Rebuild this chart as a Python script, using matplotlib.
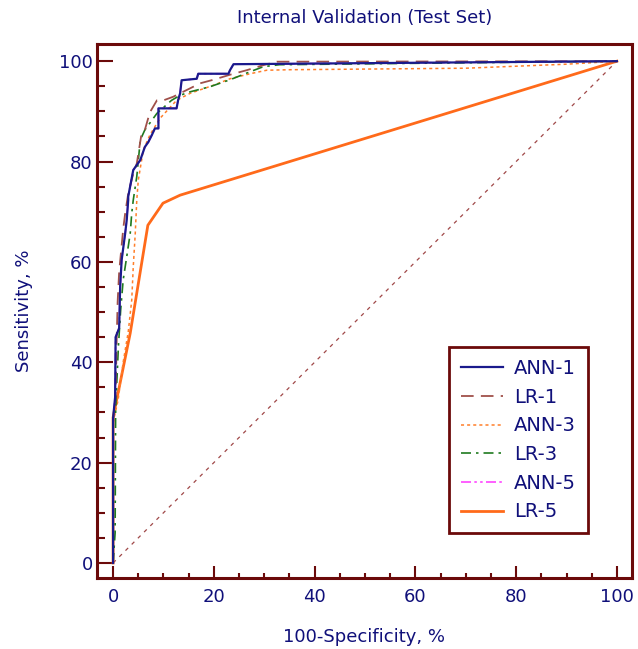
import matplotlib
matplotlib.use("Agg")
import matplotlib.pyplot as plt
from matplotlib.ticker import MultipleLocator

plt.rcParams["font.family"] = ["DejaVu Sans"]

# ROC points (100-Specificity %, Sensitivity %)
ann1_x = [0, 0, 0.4, 0.5, 1.2, 1.4, 1.7, 2.4, 2.7, 3.0, 3.0, 4.0, 5.4, 6.3, 7.0, 7.7, 8.3,
          9.0, 9.0, 12.6, 12.9, 13.3, 13.6, 16.6, 16.9, 22.9, 23.2, 23.9, 100]
ann1_y = [0, 28.9, 33, 45, 46.8, 55, 60.4, 65.7, 68.3, 72.3, 73, 78.3, 80.3, 82.9, 83.9, 85.3, 86.6,
          86.6, 90.6, 90.6, 92.2, 93.6, 96.2, 96.5, 97.5, 97.5, 98.2, 99.4, 100]
lr1_x = [0, 0, 0.5, 0.7, 0.9, 1.2, 2.0, 2.4, 3.0, 4.0, 4.7, 5.4, 5.7, 6.3, 7.3, 8.7, 10,
         11.9, 13.3, 15.3, 17.3, 19.9, 23.2, 26.5, 29.8, 32.5, 100]
lr1_y = [0, 28, 33, 44, 52, 58, 66.5, 69.7, 73.6, 77.6, 79.6, 84, 85.9, 86.3, 89.8, 92.2, 92.2,
         92.9, 93.6, 94.6, 95.6, 96.3, 97.3, 98.2, 99.2, 99.9, 100]
ann3_x = [0, 0, 1.0, 2.0, 3.0, 3.7, 4.0, 4.4, 4.7, 5.0, 6.0, 7.3, 9.3, 12.6, 15.3, 19.9,
          23.2, 27.2, 30.5, 35.1, 70, 90, 100]
ann3_y = [0, 28, 32.5, 40, 46, 52.4, 59, 65.7, 72.3, 76.3, 82.3, 85.3, 88.6, 92.2, 93.6, 95.2,
          96.5, 97.5, 98.2, 98.3, 98.6, 99.4, 100]
lr3_x = [0, 0.4, 0.5, 0.7, 1.05, 1.5, 2.0, 2.7, 3.4, 3.7, 4.0, 4.7, 5.4, 6.3, 8.7, 11.6,
         13.3, 15.3, 19.2, 23.2, 27.2, 29.8, 33, 100]
lr3_y = [0, 6, 30, 35.1, 43.1, 50.4, 56.4, 61, 65.7, 69.7, 72.3, 77, 84.3, 86.3, 89.6, 92.2,
         93.2, 93.9, 94.9, 96.3, 97.9, 98.9, 99.3, 100]
# ANN-5 lies under ANN-1 in the reference
ann5_x = [0, 0, 0.4, 0.5, 1.2, 1.4, 1.7, 2.4, 2.7, 3.0, 3.0, 4.0, 5.4, 6.3, 7.0, 7.7, 8.3,
          9.0, 9.0, 12.6, 12.9, 13.3, 13.6, 16.6, 16.9, 22.9, 23.2, 23.9, 100]
ann5_y = [0, 28.9, 33, 45, 46.8, 55, 60.4, 65.7, 68.3, 72.3, 73, 78.3, 80.3, 82.9, 83.9, 85.3, 86.6,
          86.6, 90.6, 90.6, 92.2, 93.6, 96.2, 96.5, 97.5, 97.5, 98.2, 99.4, 100]
lr5_x = [0, 0, 3.4, 6.9, 9.9, 13.3, 100]
lr5_y = [0, 29, 45.8, 67.3, 71.7, 73.3, 100]

frame = "#6b0a0a"
text_c = "#10107a"

fig = plt.figure(figsize=(6.38, 6.49), dpi=100)
ax = fig.add_axes([0.152, 0.1094, 0.8386, 0.8226])

ax.plot([0, 100], [0, 100], color="#a04848", lw=0.9, ls=(0, (3, 4)), zorder=1)
ax.plot(ann5_x, ann5_y, color="#ff44ff", lw=1.2, ls=(0, (6, 2, 1.5, 2, 1.5, 2)), label="ANN-5", zorder=2)
ax.plot(lr5_x, lr5_y, color="#ff6a1a", lw=2.0, label="LR-5", zorder=3)
ax.plot(ann3_x, ann3_y, color="#ff7f2a", lw=1.1, ls=(0, (2, 2)), label="ANN-3", zorder=4)
ax.plot(lr3_x, lr3_y, color="#1f7a1f", lw=1.2, ls=(0, (6, 3, 1.5, 3)), label="LR-3", zorder=5)
ax.plot(lr1_x, lr1_y, color="#a0504a", lw=1.3, ls=(0, (7, 4)), label="LR-1", zorder=6)
ax.plot(ann1_x, ann1_y, color="#1a1a8c", lw=1.6, label="ANN-1", zorder=7)

ax.set_xlim(-3.2, 103)
ax.set_ylim(-3.0, 103.4)
ax.xaxis.set_major_locator(MultipleLocator(20))
ax.xaxis.set_minor_locator(MultipleLocator(5))
ax.yaxis.set_major_locator(MultipleLocator(20))
ax.yaxis.set_minor_locator(MultipleLocator(5))
ax.tick_params(axis="both", which="both", direction="in", color=frame, width=1.5,
               labelcolor=text_c, labelsize=13, top=False, right=False)
ax.tick_params(axis="y", which="major", length=11.5, pad=3)
ax.tick_params(axis="y", which="minor", length=5.8)
ax.tick_params(axis="x", which="major", length=8.6, pad=7)
ax.tick_params(axis="x", which="minor", length=3.6)
for s in ax.spines.values():
    s.set_color(frame)
    s.set_linewidth(2.2)

ax.set_title("Internal Validation (Test Set)", color=text_c, fontsize=13, pad=15)
ax.set_xlabel("100-Specificity, %", color=text_c, fontsize=13, labelpad=16)
ax.set_ylabel("Sensitivity, %", color=text_c, fontsize=13, labelpad=19)

handles, labels = ax.get_legend_handles_labels()
order = ["ANN-1", "LR-1", "ANN-3", "LR-3", "ANN-5", "LR-5"]
hmap = dict(zip(labels, handles))
leg = ax.legend([hmap[k] for k in order], order, loc="lower left",
                bbox_to_anchor=(0.658, 0.084), fontsize=14, frameon=True,
                fancybox=False, framealpha=1, edgecolor=frame, handlelength=2.2,
                labelspacing=0.5, borderpad=0.6, handletextpad=0.55, borderaxespad=0)
leg.get_frame().set_linewidth(2.0)
for t in leg.get_texts():
    t.set_color(text_c)

fig.savefig("out.png", dpi=100)
